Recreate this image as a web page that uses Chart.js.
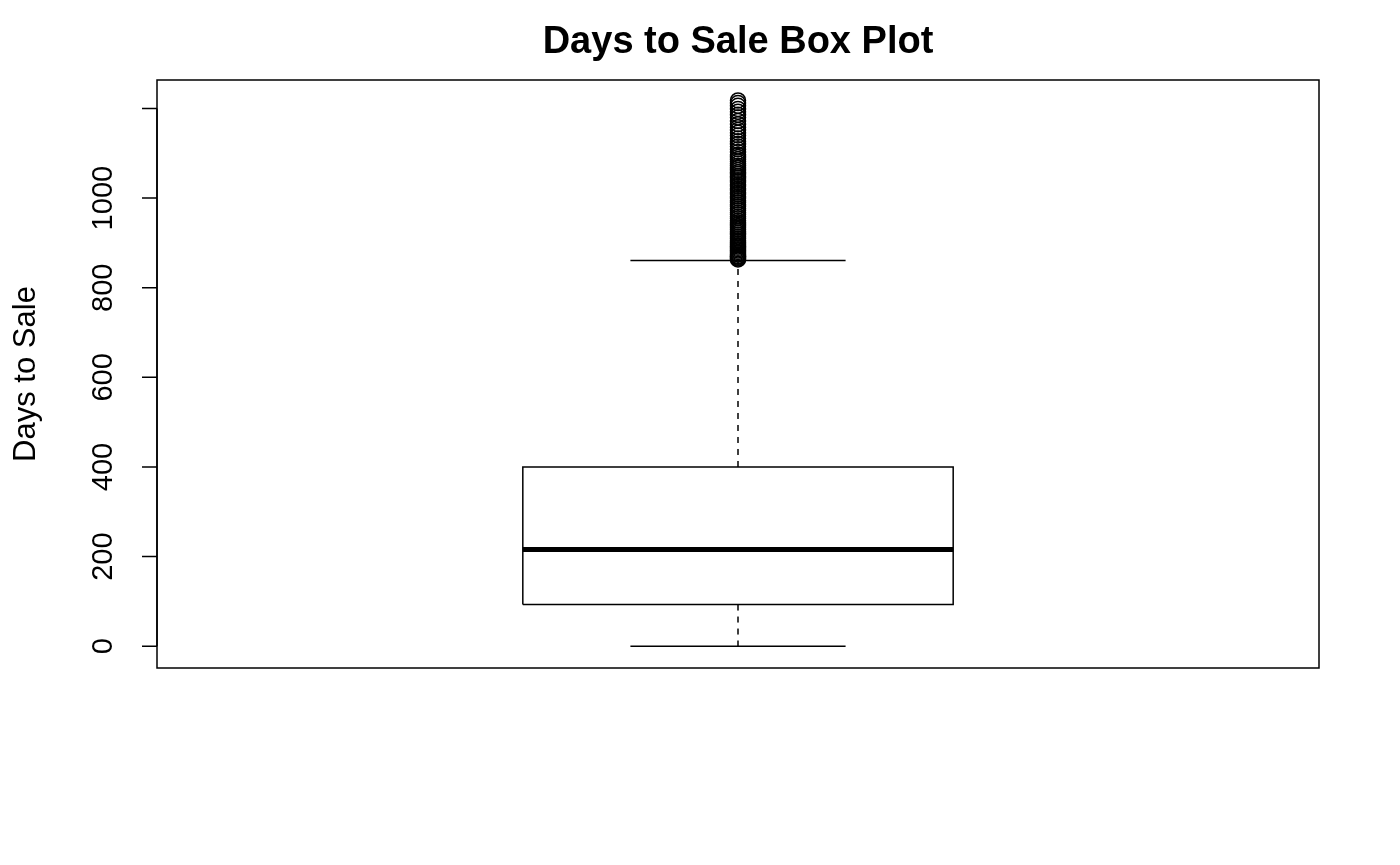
<!DOCTYPE html>
<html>
<head>
<meta charset="utf-8">
<style>
  html, body { margin: 0; padding: 0; background: #ffffff; }
  #wrap { width: 1400px; height: 865px; }
</style>
<script src="https://cdn.jsdelivr.net/npm/chart.js@4.4.0/dist/chart.umd.min.js"></script>
</head>
<body>
<div id="wrap"><canvas id="c" width="1400" height="865"></canvas></div>
<script>
// ---- Data ----
const chartTitle = "Days to Sale Box Plot";
const yAxisTitle = "Days to Sale";
const yTickValues = [0, 200, 400, 600, 800, 1000, 1200];
const yTickLabels = ["0", "200", "400", "600", "800", "1000", ""];
const boxStats = { lowerWhisker: 0, q1: 93, median: 216, q3: 400, upperWhisker: 861 };
const outliers = [1218, 1212, 1206, 1199, 1193, 1186, 1180, 1172, 1165, 1158, 1152, 1146,
  1140, 1133, 1127, 1121, 1115, 1109, 1103, 1097, 1092, 1087, 1082, 1077, 1072, 1068, 1063,
  1058, 1054, 1049, 1045, 1040, 1036, 1031, 1027, 1022, 1018, 1013, 1009, 1004, 1000, 995,
  991, 986, 982, 977, 973, 968, 964, 959, 955, 950, 946, 942, 938, 934, 930, 926, 922, 918,
  914, 910, 906, 902, 898, 895, 892, 889, 886, 883, 880, 877, 874, 871, 869, 867, 865, 863];

// ---- Geometry in data units (R boxplot conventions) ----
const groupX = 1;
const boxHalf = 0.2;
const stapleHalf = 0.1;
const xRange = [0.46, 1.54];
const dataMin = 0, dataMax = 1215;
const yPad = (dataMax - dataMin) * 0.04;

const s = boxStats;
const boxOutline = [
  { x: groupX - boxHalf, y: s.q1 }, { x: groupX + boxHalf, y: s.q1 },
  { x: groupX + boxHalf, y: s.q3 }, { x: groupX - boxHalf, y: s.q3 },
  { x: groupX - boxHalf, y: s.q1 }
];
const medianLine = [{ x: groupX - boxHalf, y: s.median }, { x: groupX + boxHalf, y: s.median }];
const upperWhisker = [{ x: groupX, y: s.q3 }, { x: groupX, y: s.upperWhisker }];
const lowerWhisker = [{ x: groupX, y: s.q1 }, { x: groupX, y: s.lowerWhisker }];
const upperStaple = [{ x: groupX - stapleHalf, y: s.upperWhisker }, { x: groupX + stapleHalf, y: s.upperWhisker }];
const lowerStaple = [{ x: groupX - stapleHalf, y: s.lowerWhisker }, { x: groupX + stapleHalf, y: s.lowerWhisker }];
const outlierPoints = outliers.map(v => ({ x: groupX, y: v }));

function lineDs(data, width, dash) {
  return { type: 'line', data, borderColor: '#000', borderWidth: width, borderDash: dash || [],
    pointRadius: 0, fill: false, tension: 0, borderCapStyle: 'butt', order: 1 };
}

const decor = {
  id: 'decor',
  afterDraw(chart) {
    const ctx = chart.ctx;
    const a = chart.chartArea;
    const y = chart.scales.y;
    ctx.save();
    // frame
    ctx.strokeStyle = '#000';
    ctx.lineWidth = 1.5;
    ctx.strokeRect(a.left, a.top, a.right - a.left, a.bottom - a.top);
    // axis line + ticks
    const p0 = y.getPixelForValue(yTickValues[0]);
    const p1 = y.getPixelForValue(yTickValues[yTickValues.length - 1]);
    ctx.beginPath();
    ctx.moveTo(a.left, p0); ctx.lineTo(a.left, p1);
    yTickValues.forEach(v => {
      const py = y.getPixelForValue(v);
      ctx.moveTo(a.left, py); ctx.lineTo(a.left - 15, py);
    });
    ctx.stroke();
    // tick labels (rotated)
    ctx.fillStyle = '#000';
    ctx.font = '29px "Liberation Sans", Arial, sans-serif';
    ctx.textAlign = 'center';
    ctx.textBaseline = 'alphabetic';
    yTickValues.forEach((v, i) => {
      if (!yTickLabels[i]) return;
      const py = y.getPixelForValue(v);
      ctx.save();
      ctx.translate(112, py);
      ctx.rotate(-Math.PI / 2);
      ctx.fillText(yTickLabels[i], 0, 0);
      ctx.restore();
    });
    // y axis title
    ctx.font = '31px "Liberation Sans", Arial, sans-serif';
    ctx.save();
    ctx.translate(35, (a.top + a.bottom) / 2);
    ctx.rotate(-Math.PI / 2);
    ctx.fillText(yAxisTitle, 0, 0);
    ctx.restore();
    // title
    ctx.font = 'bold 38px "Liberation Sans", Arial, sans-serif';
    ctx.fillText(chartTitle, (a.left + a.right) / 2, 53);
    ctx.restore();
  }
};

const bg = {
  id: 'bg',
  beforeDraw(chart) {
    const ctx = chart.ctx;
    ctx.save(); ctx.fillStyle = '#fff'; ctx.fillRect(0, 0, chart.width, chart.height); ctx.restore();
  }
};

new Chart(document.getElementById('c'), {
  type: 'scatter',
  data: {
    datasets: [
      lineDs(boxOutline, 1.5),
      lineDs(medianLine, 5),
      lineDs(upperWhisker, 1.5, [6, 6]),
      lineDs(lowerWhisker, 1.5, [6, 6]),
      lineDs(upperStaple, 1.5),
      lineDs(lowerStaple, 1.5),
      { type: 'scatter', data: outlierPoints, pointRadius: 7.5, pointBorderWidth: 1.5,
        pointBackgroundColor: 'rgba(0,0,0,0)', pointBorderColor: '#000', showLine: false, order: 0 }
    ]
  },
  options: {
    responsive: false,
    animation: false,
    devicePixelRatio: 1,
    layout: { padding: { left: 157, top: 80, right: 81, bottom: 197 } },
    plugins: { legend: { display: false }, tooltip: { enabled: false }, title: { display: false } },
    scales: {
      x: { type: 'linear', display: false, min: xRange[0], max: xRange[1] },
      y: { type: 'linear', display: false, min: dataMin - yPad, max: dataMax + yPad }
    },
    clip: false
  },
  plugins: [bg, decor]
});
</script>
</body>
</html>
